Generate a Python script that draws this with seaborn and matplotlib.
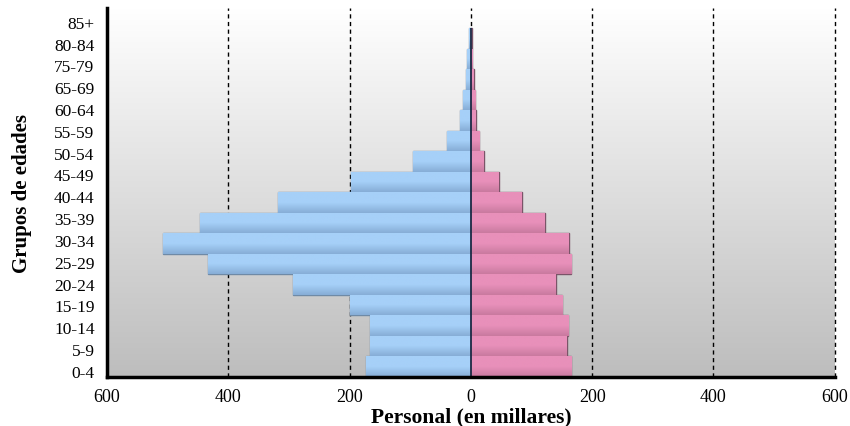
import matplotlib
matplotlib.use("Agg")
import matplotlib.pyplot as plt
import numpy as np
import pandas as pd
import seaborn as sns

# grupos de edad (de arriba hacia abajo, como en el original: falta 70-74)
grupos = ["85+", "80-84", "75-79", "65-69", "60-64", "55-59", "50-54", "45-49",
          "40-44", "35-39", "30-34", "25-29", "20-24", "15-19", "10-14", "5-9", "0-4"]

# personal en millares
hombres = [3.6, 6, 8.5, 13.5, 18.5, 40, 95, 197, 318, 446, 507, 433, 293, 199, 167, 167, 173]
mujeres = [1, 2, 4.6, 7, 8, 13.5, 21, 46, 84, 122, 161, 165, 140, 151, 160, 158, 165]

ticks_x = [-600, -400, -200, 0, 200, 400, 600]
etiquetas_x = ["600", "400", "200", "0", "200", "400", "600"]

df = pd.DataFrame({
    "grupo": grupos * 2,
    "valor": [-h for h in hombres] + mujeres,
    "sexo": ["H"] * len(grupos) + ["M"] * len(grupos),
})

sns.set_theme(style="white")
plt.rcParams["font.family"] = ["Liberation Serif", "DejaVu Serif"]
plt.rcParams["text.color"] = "black"
plt.rcParams["axes.labelcolor"] = "black"
plt.rcParams["xtick.color"] = "black"
plt.rcParams["ytick.color"] = "black"

fig = plt.figure(figsize=(8.5, 4.27), dpi=100)
ax = fig.add_axes([0.126, 0.115, 0.856, 0.864])

# fondo degradado blanco -> gris
grad = np.linspace(0, 1, 256).reshape(-1, 1)
ax.imshow(grad, extent=[0, 1, 0, 1], transform=ax.transAxes, aspect="auto",
          cmap=matplotlib.colors.LinearSegmentedColormap.from_list("bg", ["#ffffff", "#bdbdbd"]),
          origin="upper", zorder=0)

sns.barplot(data=df, x="valor", y="grupo", hue="sexo", order=grupos,
            palette={"H": "#a6d0f8", "M": "#e890ba"}, orient="h", width=1.0,
            dodge=False, legend=False, ax=ax, zorder=2)

# bordes y sombreado de las barras
for p in ax.patches:
    es_h = p.get_x() < 0 or (p.get_x() + p.get_width()) < 0
    p.set_edgecolor("#6f8aa6" if es_h else "#7a5468")
    p.set_linewidth(1.0)
    x0, y0 = p.get_x(), p.get_y()
    w, h = p.get_width(), p.get_height()
    base = "#a6d0f8" if es_h else "#e890ba"
    oscuro = "#86add6" if es_h else "#c97a9f"
    cm = matplotlib.colors.LinearSegmentedColormap.from_list("b", [base, base, oscuro])
    im = ax.imshow(np.linspace(0, 1, 64).reshape(-1, 1), extent=[x0, x0 + w, y0 + h, y0],
                   aspect="auto", cmap=cm, origin="upper", zorder=2.1)
    im.set_clip_path(p)

# línea central solo a la altura de las barras
ax.vlines(0, len(grupos) - 0.5, -0.5, color="#1c2a44", lw=1.3, zorder=3)
for xv in [-400, -200, 0, 200, 400, 600]:
    ax.axvline(xv, color="black", lw=1.0, ls=(0, (3, 2.5)), zorder=1, clip_on=False)

ax.set_xlim(-600, 600)
ax.set_ylim(16.5, -1.5)

ax.set_xticks(ticks_x)
ax.set_xticklabels(etiquetas_x, fontsize=13)
ax.set_yticks(np.linspace(-0.83, 16.21, len(grupos)))
ax.set_yticklabels(grupos, fontsize=12.5)
ax.tick_params(axis="both", length=0)
ax.tick_params(axis="y", pad=9)
ax.tick_params(axis="x", pad=8)

for s in ["top", "right"]:
    ax.spines[s].set_visible(False)
ax.spines["left"].set_linewidth(2.5)
ax.spines["bottom"].set_linewidth(2.5)
ax.spines["left"].set_color("black")
ax.spines["bottom"].set_color("black")
ax.spines["left"].set_zorder(4)
ax.spines["bottom"].set_zorder(4)

ax.set_xlabel("Personal (en millares)", fontsize=15.5, fontweight="bold")
ax.set_ylabel("Grupos de edades", fontsize=15, fontweight="bold")
ax.xaxis.set_label_coords(0.5, -0.106)
ax.xaxis.label.set_va("center")
ax.yaxis.set_label_coords(-0.117, 0.5)
ax.yaxis.label.set_va("center")

fig.savefig("out.png", dpi=100)
